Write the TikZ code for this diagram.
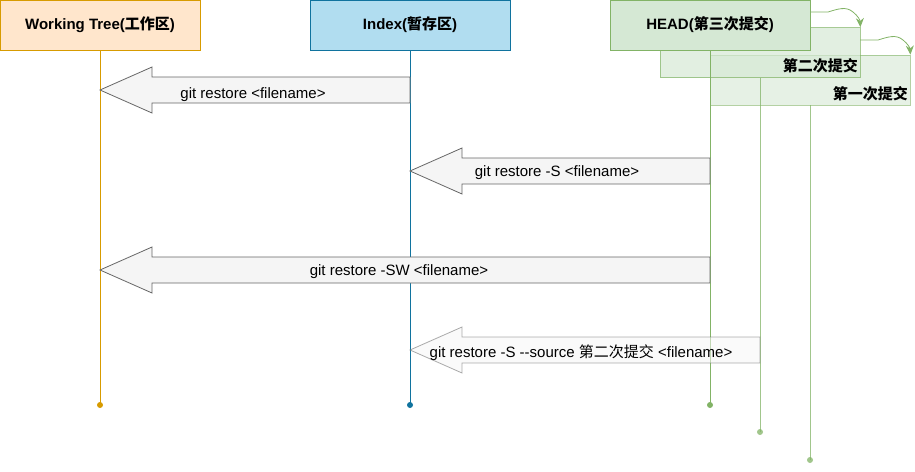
\documentclass[tikz,border=0pt]{standalone}
\usepackage{fontspec}
\setmainfont[Ligatures=NoCommon]{Liberation Sans}
\newfontfamily\cjk{Noto Sans CJK SC}
\usetikzlibrary{arrows.meta,calc}
\definecolor{wtfill}{HTML}{FFE6CC}\definecolor{wtdraw}{HTML}{D79B00}
\definecolor{ixfill}{HTML}{B1DDF0}\definecolor{ixdraw}{HTML}{10739E}
\definecolor{hdfill}{HTML}{D5E8D4}\definecolor{hddraw}{HTML}{82B366}
\definecolor{arfill}{HTML}{F5F5F5}\definecolor{ardraw}{HTML}{666666}
\newcommand\blockarrow[3][]{%
  \path let \p1=(#2), \p2=(#3) in
    [draw=ardraw, fill=arfill, line width=0.8pt, line join=miter, #1]
    (\x1,\y1) -- (\x1+52pt,\y1+23pt) -- (\x1+52pt,\y1+13pt) -- (\x2,\y2+13pt)
    -- (\x2,\y2-13pt) -- (\x1+52pt,\y1-13pt) -- (\x1+52pt,\y1-23pt) -- cycle;}
\begin{document}
\begin{tikzpicture}[x=1pt,y=-1pt,
  box/.style={minimum width=200pt,minimum height=50pt,inner sep=0pt,line width=0.8pt,font=\fontsize{15}{17}\selectfont\bfseries},
  life/.style={line width=0.8pt},
  dot/.style={circle,inner sep=0pt,minimum size=6pt},
  lbl/.style={font=\fontsize{15}{17}\selectfont,inner sep=0pt},
  curv/.style={draw=hddraw,line width=0.8pt,-{Stealth[length=9pt,width=8pt]}}]
\useasboundingbox (0,0) rectangle (915,471);
% back commit boxes
\node[box, fill=hdfill, draw=hddraw, fill opacity=0.6, draw opacity=0.6] (first) at (810,80) {};
\node[lbl, font=\fontsize{15}{17}\selectfont\bfseries\cjk, anchor=east] (firstlbl) at (908,94) {第一次提交};
\node[box, fill=hdfill, draw=hddraw, fill opacity=0.7, draw opacity=0.7] (second) at (760,52.5) {};
\node[lbl, font=\fontsize{15}{17}\selectfont\bfseries\cjk, anchor=east] (secondlbl) at (858,66) {第二次提交};
% main boxes
\node[box, fill=wtfill, draw=wtdraw] (wt) at (100,25) {Working Tree({\cjk 工作区})};
\node[box, fill=ixfill, draw=ixdraw] (ix) at (410,25) {Index({\cjk 暂存区})};
\node[box, fill=hdfill, draw=hddraw] (hd) at (710,25) {HEAD({\cjk 第三次提交})};
% lifeline ends
\node[dot, fill=wtdraw] (wtend) at (100,405) {};
\node[dot, fill=ixdraw] (ixend) at (410,405) {};
\node[dot, fill=hddraw] (hdend) at (710,405) {};
\node[dot, fill=hddraw, opacity=0.75] (secend) at (760,432) {};
\node[dot, fill=hddraw, opacity=0.75] (firend) at (810,460) {};
\draw[life, draw=wtdraw] (wt.south) -- (wtend.center);
\draw[life, draw=ixdraw] (ix.south) -- (ixend.center);
\draw[life, draw=hddraw] (hd.south) -- (hdend.center);
\draw[life, draw=hddraw, draw opacity=0.75] (second.south) -- (secend.center);
\draw[life, draw=hddraw, draw opacity=0.75] (first.south) -- (firend.center);
% curved arrows
\coordinate (c1s) at (810,12);
\coordinate (c2s) at (860,40);
\draw[curv] (c1s) -- (828,12) .. controls (838,9) and (846,6) .. (853,12) .. controls (858,16) and (860,20) .. (second.north east);
\draw[curv] (c2s) -- (878,40) .. controls (888,37) and (896,34) .. (903,40) .. controls (908,44) and (910,48) .. (first.north east);
% arrow anchor points on lifelines
\coordinate (a1tip) at (100,90);  \coordinate (a1tail) at (410,90);
\coordinate (a2tip) at (410,171); \coordinate (a2tail) at (710,171);
\coordinate (a3tip) at (100,270); \coordinate (a3tail) at (710,270);
\coordinate (a4tip) at (410,350); \coordinate (a4tail) at (760,350);
\blockarrow{a1tip}{a1tail}
\blockarrow{a2tip}{a2tail}
\blockarrow{a3tip}{a3tail}
\blockarrow[draw opacity=0.55, fill opacity=0.55]{a4tip}{a4tail}
\node[lbl] (t1) at ($(a1tip)!0.5!(a1tail)+(-2,4.5)$) {git restore <filename>};
\node[lbl] (t2) at ($(a2tip)!0.5!(a2tail)+(-3,2)$) {git restore -S <filename>};
\node[lbl] (t3) at ($(a3tip)!0.5!(a3tail)+(-6,2)$) {git restore -SW <filename>};
\node[lbl] (t4) at ($(a4tip)!0.5!(a4tail)+(-4,3)$) {git restore -S -{}-source {\cjk 第二次提交} <filename>};
\end{tikzpicture}
\end{document}
